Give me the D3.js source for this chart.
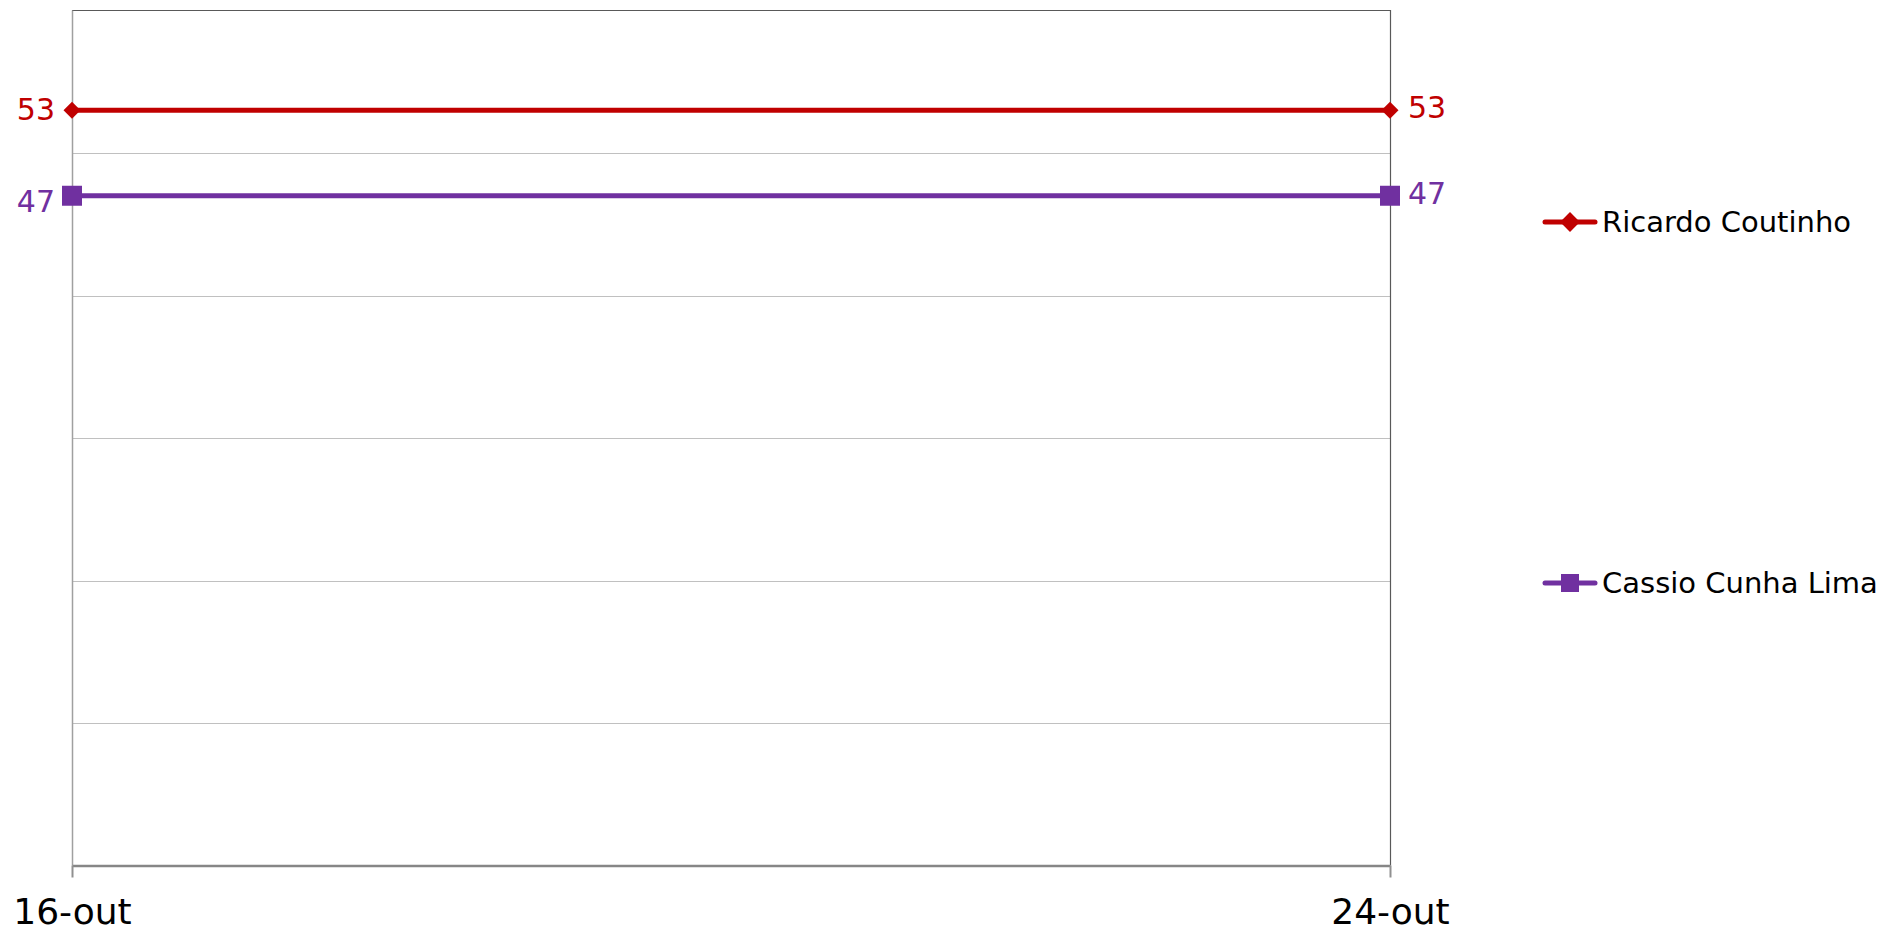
<!DOCTYPE html>
<html>
<head>
<meta charset="utf-8">
<script src="https://cdn.jsdelivr.net/npm/d3@7"></script>
<style>
  body { margin: 0; background: #fff; }
  svg { display: block; font-family: "DejaVu Sans", Verdana, sans-serif; }
</style>
</head>
<body>
<svg id="chart" width="1885" height="933"></svg>
<script>
const width = 1885;
const height = 933;

// Data
const dates = ["16-out", "24-out"];
const ricardo = [53, 53];
const cassio = [47, 47];
const yTicks = [0, 10, 20, 30, 40, 50, 60];

const series = [
    { name: "Ricardo Coutinho", values: ricardo, color: "#c00000", marker: "diamond", leftDy: 10, rightDy: 8, legendY: 222 },
    { name: "Cassio Cunha Lima", values: cassio, color: "#7030a0", marker: "square", leftDy: 16, rightDy: 8, legendY: 583 }
];

const plot = { left: 72, right: 1390, top: 10.5, bottom: 865.5 };

const x = d3.scalePoint().domain(dates).range([plot.left, plot.right]);
const y = d3.scaleLinear().domain([0, 60]).range([plot.bottom, plot.top]);

const svg = d3.select("#chart");

// Gridlines
svg.append("g")
    .selectAll("line")
    .data(yTicks.filter(d => d > 0 && d < 60))
    .join("line")
    .attr("x1", plot.left)
    .attr("x2", plot.right)
    .attr("y1", d => Math.round(y(d)) + 0.5)
    .attr("y2", d => Math.round(y(d)) + 0.5)
    .attr("stroke", "#c0c0c0")
    .attr("stroke-width", 1);

// Plot border (top + right)
svg.append("path")
    .attr("d", `M${plot.left},${plot.top}H${plot.right + 0.5}V${plot.bottom}`)
    .attr("fill", "none")
    .attr("stroke", "#595959")
    .attr("stroke-width", 1.2);

// Left value axis line
svg.append("line")
    .attr("x1", plot.left + 0.5).attr("x2", plot.left + 0.5)
    .attr("y1", plot.top).attr("y2", plot.bottom)
    .attr("stroke", "#a0a0a0")
    .attr("stroke-width", 1.5);

// Category axis
const xAxis = svg.append("g")
    .attr("transform", `translate(0,${plot.bottom})`)
    .call(d3.axisBottom(x).tickSize(12).tickPadding(10).tickSizeOuter(0));
xAxis.select(".domain")
    .attr("stroke", "#868686")
    .attr("stroke-width", 2.5);
xAxis.selectAll(".tick line")
    .attr("stroke", "#909090")
    .attr("stroke-width", 2);
xAxis.selectAll(".tick text")
    .attr("font-size", "36px")
    .attr("font-family", "DejaVu Sans, Verdana, sans-serif")
    .attr("fill", "#000")
    .attr("dy", "1.02em");

const line = d3.line()
    .x((d, i) => x(dates[i]))
    .y(d => y(d));

// markers: square side / diamond rotated square
function markerPath(type, side) {
    return d3.symbol(d3.symbolSquare, side * side)();
}
function markerRotate(type) {
    return type === "diamond" ? " rotate(45)" : "";
}

series.forEach(s => {
    const g = svg.append("g");
    g.append("path")
        .datum(s.values)
        .attr("d", line)
        .attr("fill", "none")
        .attr("stroke", s.color)
        .attr("stroke-width", 5);

    g.selectAll("path.marker")
        .data(s.values)
        .join("path")
        .attr("class", "marker")
        .attr("transform", (d, i) => `translate(${x(dates[i])},${y(d)})` + markerRotate(s.marker))
        .attr("d", markerPath(s.marker, s.marker === "diamond" ? 12 : 20))
        .attr("fill", s.color);

    g.selectAll("text")
        .data(s.values)
        .join("text")
        .attr("x", (d, i) => x(dates[i]) + (i === 0 ? -17 : 18))
        .attr("y", (d, i) => y(d) + (i === 0 ? s.leftDy : s.rightDy))
        .attr("text-anchor", (d, i) => i === 0 ? "end" : "start")
        .attr("font-size", "30px")
        .attr("fill", s.color)
        .text(d => d);
});

// Legend
const legend = svg.append("g");
series.forEach(s => {
    const lg = legend.append("g").attr("transform", `translate(0,${s.legendY})`);
    lg.append("line")
        .attr("x1", 1545).attr("x2", 1595)
        .attr("stroke", s.color)
        .attr("stroke-width", 5)
        .attr("stroke-linecap", "round");
    lg.append("path")
        .attr("transform", "translate(1570,0)" + markerRotate(s.marker))
        .attr("d", markerPath(s.marker, s.marker === "diamond" ? 14 : 18))
        .attr("fill", s.color);
    lg.append("text")
        .attr("x", 1602)
        .attr("y", 10)
        .attr("font-size", "29px")
        .attr("fill", "#000")
        .text(s.name);
});
</script>
</body>
</html>
